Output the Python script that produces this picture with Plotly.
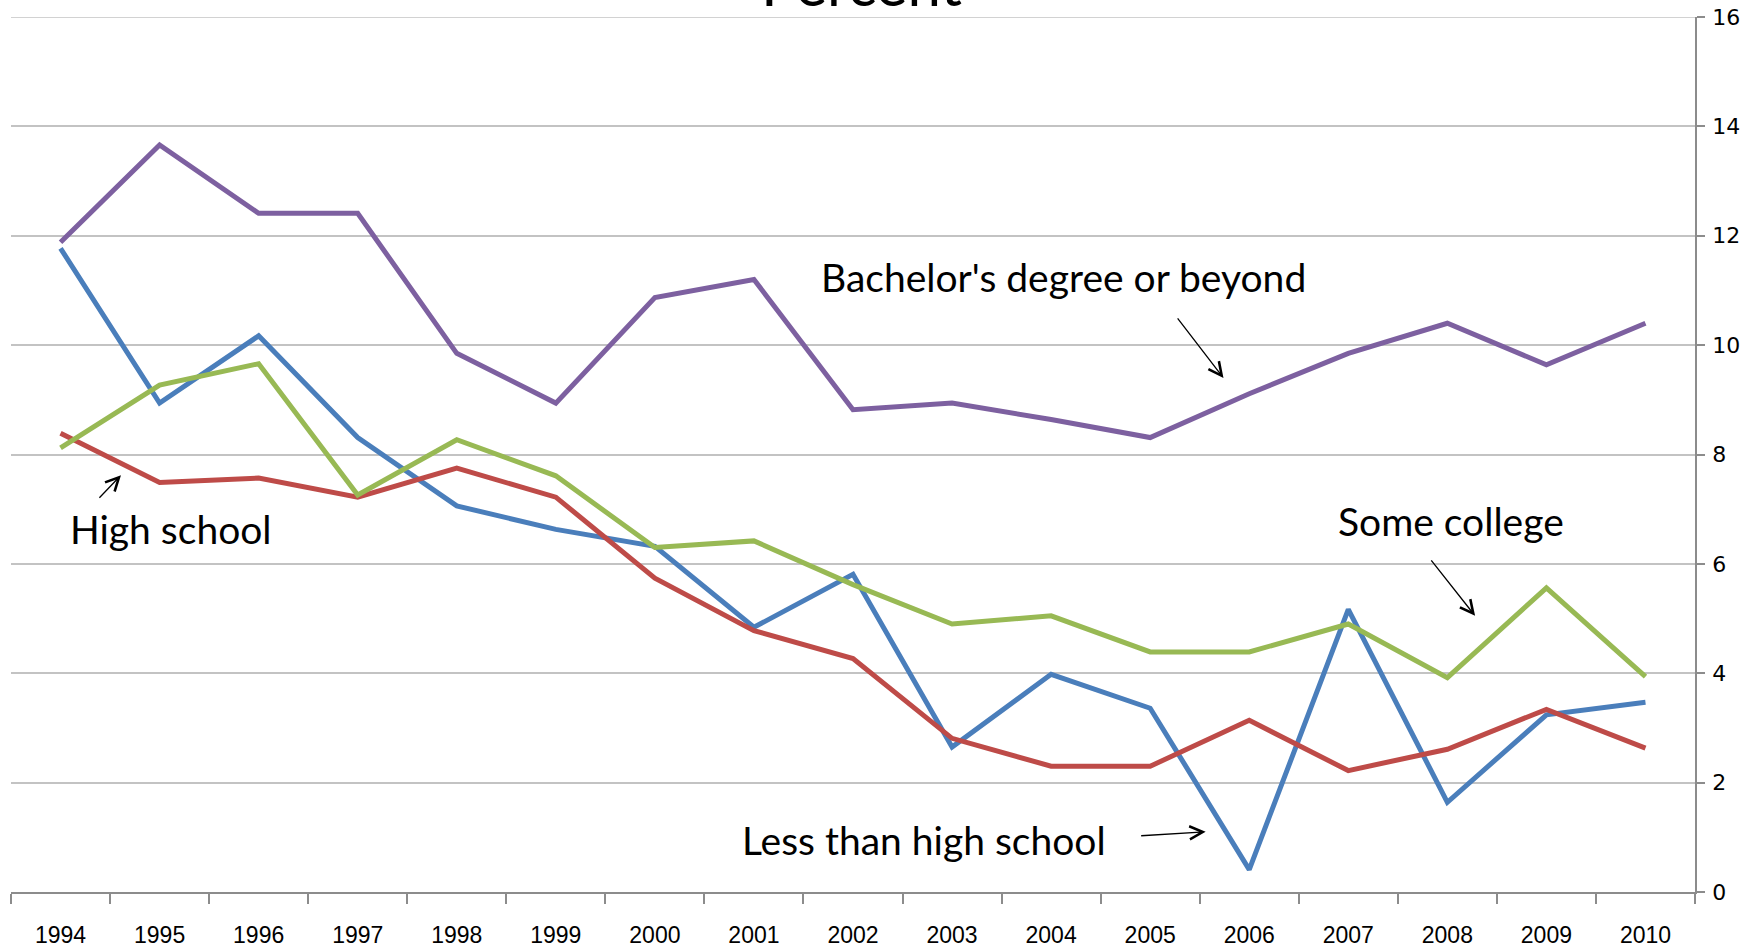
"""Unemployment-rate style line chart by education level (percent), Excel look."""

import plotly.graph_objects as go

years = [str(y) for y in range(1994, 2011)]

less_than_hs = [11.77, 8.94, 10.17, 8.31, 7.06, 6.63, 6.32, 4.84, 5.81,
                2.65, 3.98, 3.36, 0.41, 5.17, 1.64, 3.24, 3.47]
high_school = [8.39, 7.49, 7.57, 7.22, 7.75, 7.22, 5.74, 4.78, 4.27,
               2.81, 2.30, 2.30, 3.14, 2.22, 2.61, 3.34, 2.63]
some_college = [8.12, 9.27, 9.66, 7.26, 8.27, 7.61, 6.30, 6.42, 5.62,
                4.90, 5.05, 4.39, 4.39, 4.90, 3.92, 5.56, 3.94]
bachelors = [11.88, 13.66, 12.41, 12.41, 9.85, 8.94, 10.87, 11.20, 8.82,
             8.94, 8.64, 8.31, 9.11, 9.85, 10.40, 9.64, 10.40]

series = [
    ("Less than high school", less_than_hs, "#4A7EBB"),
    ("High school", high_school, "#BE4B48"),
    ("Some college", some_college, "#98B954"),
    ("Bachelor's degree or beyond", bachelors, "#7D60A0"),
]

# label text, text position (x index, y value), arrow head (x index, y value), tail offset px
labels = [
    ("Bachelor's degree or beyond", 10.12, 11.25, 11.74, 9.40, -47, -61),
    ("Some college", 14.04, 6.78, 14.28, 5.05, -45, -57),
    ("High school", 1.12, 6.64, 0.61, 7.62, -23, 24),
    ("Less than high school", 8.72, 0.95, 11.56, 1.10, -66, 4),
]

TEXT_FONT = "Lato, Liberation Sans, sans-serif"
GRID = "#c3c3c3"
AXIS = "#8c8c8c"

fig = go.Figure()
for name, vals, color in series:
    fig.add_trace(
        go.Scatter(
            x=years,
            y=vals,
            name=name,
            mode="lines",
            line=dict(color=color, width=5),
            hovertemplate=f"{name}<br>%{{x}}: %{{y:.1f}}%<extra></extra>",
        )
    )

for text, tx, ty, hx, hy, ax, ay in labels:
    fig.add_annotation(
        x=tx, y=ty, xref="x", yref="y", text=text, showarrow=False,
        font=dict(family=TEXT_FONT, size=39, color="black"),
    )
    fig.add_annotation(
        x=hx, y=hy, xref="x", yref="y", text="", showarrow=True,
        ax=ax, ay=ay, arrowhead=5, arrowsize=2, arrowwidth=1.3,
        arrowcolor="black", standoff=0,
    )

# title sits mostly above the page edge, only its lower part shows
fig.add_annotation(
    x=0.505, y=0.995, xref="paper", yref="paper", yanchor="bottom",
    text="Percent", showarrow=False,
    font=dict(family=TEXT_FONT, size=60, color="black"),
)

# plotly drops the gridline sitting on the top edge, Excel keeps it
fig.add_shape(type="line", xref="paper", yref="y", x0=0, x1=1, y0=16, y1=16,
              line=dict(color=GRID, width=1.5), layer="below")

fig.update_layout(
    width=1760,
    height=948,
    margin=dict(l=11, r=65, t=17, b=56),
    paper_bgcolor="white",
    plot_bgcolor="white",
    showlegend=False,
)
fig.update_xaxes(
    type="category",
    range=[-0.5, 16.5],
    automargin=False,
    tickson="boundaries",
    ticks="outside",
    ticklen=10,
    tickwidth=1.5,
    tickcolor=AXIS,
    showline=True,
    linecolor=AXIS,
    linewidth=1.5,
    showgrid=False,
    ticklabelstandoff=22,
    tickfont=dict(family="Liberation Sans Narrow, Liberation Sans, sans-serif",
                  size=23, color="black"),
)
fig.update_yaxes(
    side="right",
    range=[0, 16],
    dtick=2,
    automargin=False,
    ticks="outside",
    ticklen=8,
    tickwidth=1.5,
    tickcolor=AXIS,
    showline=True,
    linecolor=AXIS,
    linewidth=1.5,
    showgrid=True,
    gridcolor=GRID,
    gridwidth=1.5,
    zeroline=False,
    ticklabelstandoff=3,
    tickfont=dict(family="DejaVu Sans, Verdana, sans-serif", size=22, color="black"),
)

# the page body has an 8px default margin; drop it so the chart sits flush
fig.write_html(
    "out.html",
    config={"displayModeBar": False},
    post_script="document.body.style.margin = '0';",
)
